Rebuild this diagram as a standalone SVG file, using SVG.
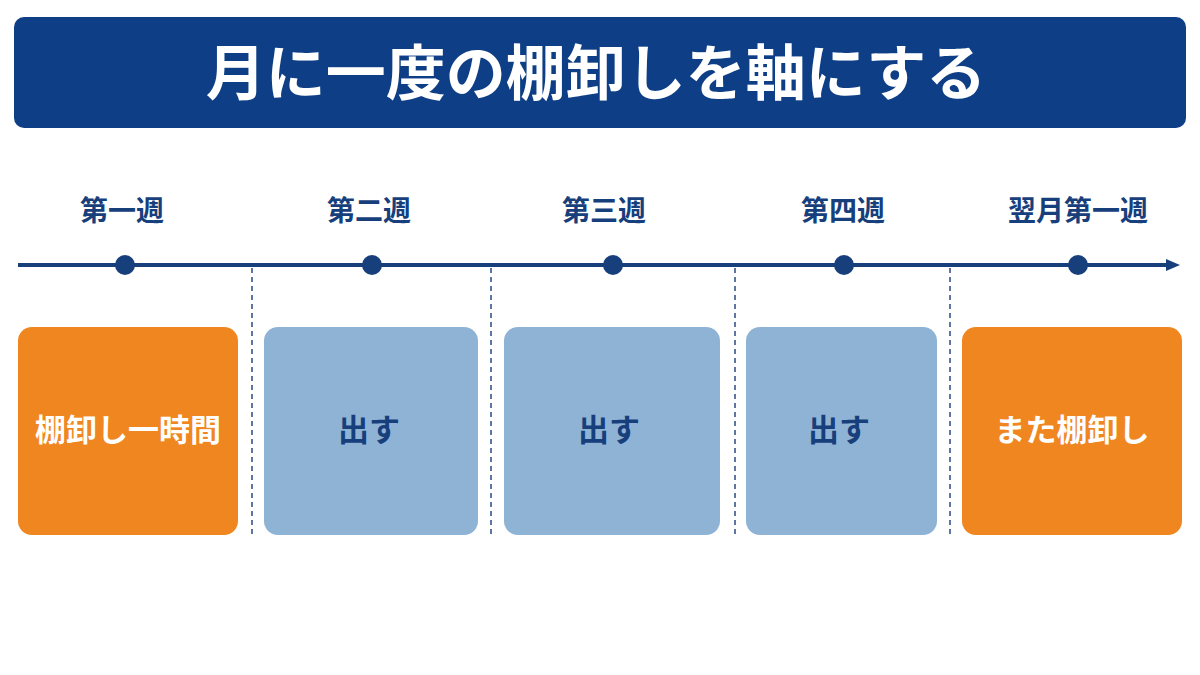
<svg xmlns="http://www.w3.org/2000/svg" width="1200" height="675" viewBox="0 0 1200 675">
<defs>
<style>
text{font-family:"Noto Sans CJK JP","Noto Sans",sans-serif;font-weight:bold;text-anchor:middle}
.wk{font-size:28px;fill:#173f7c}
.bl{fill:#8fb3d5}
.or{fill:#f0861f}
.bt{font-size:31px}
.dash{stroke:#2a4a85;stroke-width:1.5;stroke-dasharray:5 4}
</style>
<marker id="ah" markerWidth="14" markerHeight="12" refX="2" refY="6" orient="auto" markerUnits="userSpaceOnUse"><path d="M0,0 L14,6 L0,12 Z" fill="#173f7c"/></marker>
</defs>
<rect width="1200" height="675" fill="#fff"/>
<g id="title"><rect x="14" y="17" width="1172" height="111" rx="10" fill="#0e3f86"/>
<text x="596" y="95" font-size="60" fill="#fff">月に一度の棚卸しを軸にする</text></g>
<g id="connectors">
<line x1="18" y1="265" x2="1168" y2="265" stroke="#173f7c" stroke-width="4" marker-end="url(#ah)"/>
<line class="dash" x1="252" y1="268" x2="252" y2="535"/>
<line class="dash" x1="491" y1="268" x2="491" y2="535"/>
<line class="dash" x1="735" y1="268" x2="735" y2="535"/>
<line class="dash" x1="950" y1="268" x2="950" y2="535"/>
</g>
<g fill="#173f7c"><circle cx="125" cy="265" r="10"/><circle cx="372" cy="265" r="10"/><circle cx="613" cy="265" r="10"/><circle cx="844" cy="265" r="10"/><circle cx="1078" cy="265" r="10"/></g>
<g id="w1"><text class="wk" x="122" y="221">第一週</text></g>
<g id="w2"><text class="wk" x="369" y="221">第二週</text></g>
<g id="w3"><text class="wk" x="604" y="221">第三週</text></g>
<g id="w4"><text class="wk" x="843" y="221">第四週</text></g>
<g id="w5"><text class="wk" x="1078" y="221">翌月第一週</text></g>
<g id="b1"><rect class="or" x="18" y="327" width="220" height="208" rx="14"/><text class="bt" x="128" y="441" fill="#fff">棚卸し一時間</text></g>
<g id="b2"><rect class="bl" x="264" y="327" width="214" height="208" rx="14"/><text class="bt" x="369" y="441" fill="#173f7c">出す</text></g>
<g id="b3"><rect class="bl" x="504" y="327" width="216" height="208" rx="14"/><text class="bt" x="609" y="441" fill="#173f7c">出す</text></g>
<g id="b4"><rect class="bl" x="746" y="327" width="191" height="208" rx="14"/><text class="bt" x="839" y="441" fill="#173f7c">出す</text></g>
<g id="b5"><rect class="or" x="962" y="327" width="220" height="208" rx="14"/><text class="bt" x="1072" y="441" fill="#fff">また棚卸し</text></g>
</svg>
